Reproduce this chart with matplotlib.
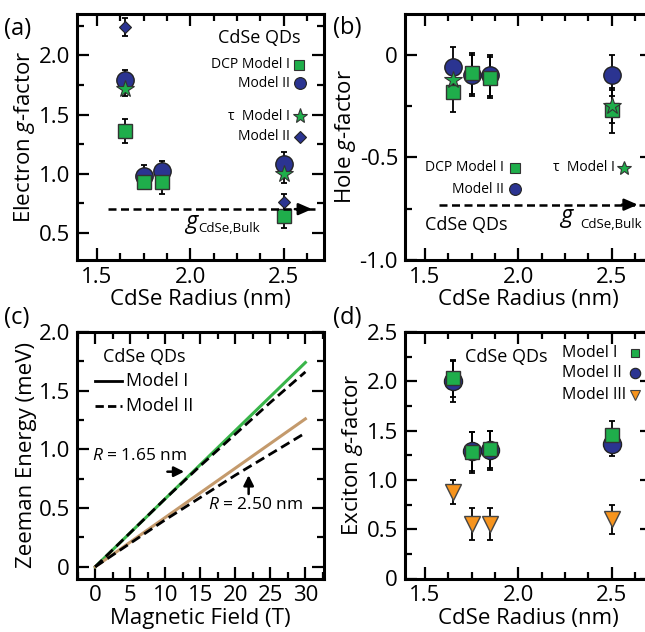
import matplotlib
matplotlib.use("Agg")
import matplotlib.pyplot as plt
from matplotlib.ticker import MultipleLocator, FuncFormatter

FONT = "Open Sans"
plt.rcParams['font.family'] = [FONT, 'DejaVu Sans']
plt.rcParams['mathtext.fontset'] = 'custom'
plt.rcParams['mathtext.rm'] = FONT
plt.rcParams['mathtext.it'] = FONT + ':italic'

# ---------------- data ----------------
radius = [1.65, 1.75, 1.85, 2.5]
radius_tau = [1.65, 2.5]

# (a) electron g-factor
el_dcp_I = [1.36, 0.93, 0.93, 0.64]
el_dcp_I_err = [0.10, 0.05, 0.10, 0.10]
el_dcp_II = [1.79, 0.98, 1.02, 1.08]
el_dcp_II_err = [0.09, 0.09, 0.09, 0.10]
el_tau_I = [1.72, 1.00]
el_tau_I_err = [0.06, 0.08]
el_tau_II = [2.24, 0.76]
el_tau_II_err = [0.08, 0.07]
g_bulk_el = 0.70

# (b) hole g-factor
h_dcp_I = [-0.18, -0.09, -0.11, -0.27]
h_dcp_I_err = [0.10, 0.10, 0.10, 0.11]
h_dcp_II = [-0.06, -0.10, -0.10, -0.10]
h_dcp_II_err = [0.10, 0.10, 0.10, 0.10]
h_tau_I = [-0.12, -0.25]
h_tau_I_err = [0.06, 0.08]
g_bulk_h = -0.73

# (c) Zeeman energy
field = [0, 5, 10, 15, 20, 25, 30]
E165_I = [0, 0.29, 0.58, 0.87, 1.16, 1.45, 1.74]
E165_II = [0, 0.29, 0.58, 0.86, 1.13, 1.40, 1.66]
E250_I = [0, 0.21, 0.42, 0.63, 0.84, 1.05, 1.26]
E250_II = [0, 0.20, 0.40, 0.59, 0.78, 0.96, 1.14]

# (d) exciton g-factor
ex_I = [2.03, 1.28, 1.31, 1.46]
ex_I_err = [0.19, 0.21, 0.19, 0.14]
ex_II = [2.00, 1.29, 1.30, 1.36]
ex_II_err = [0.21, 0.20, 0.20, 0.12]
ex_III = [0.88, 0.55, 0.55, 0.60]
ex_III_err = [0.12, 0.16, 0.16, 0.15]

GREEN = '#1fae4b'
BLUE = '#2b3491'
ORANGE = '#f7941d'
TAN = '#c49a6c'
LGREEN = '#39b54a'

fig = plt.figure(figsize=(6.45, 6.32), dpi=100)
W, H = 645.0, 632.0

def mkax(l, t, w=246.6, h=246.0):
    return fig.add_axes([l / W, 1 - (t + h) / H, w / W, h / H])

axA = mkax(77, 14)
axB = mkax(405, 14)
axC = mkax(77, 332, h=246.5)
axD = mkax(405, 332, h=246.5)

TICKFS = 16
LABFS = 16

def style(ax):
    for s in ax.spines.values():
        s.set_linewidth(2.2)
    ax.tick_params(which='both', direction='in', top=True, right=True,
                   labelsize=TICKFS, width=1.6, pad=5)
    ax.tick_params(which='major', length=8.5)
    ax.tick_params(which='minor', length=5)

def fmt(v, pos):
    if abs(v) < 1e-9:
        return '0'
    return '%.1f' % v

EB = dict(ecolor='black', elinewidth=1.3, capsize=2.5, capthick=1.3, linestyle='none')
ARW = dict(arrowstyle='-|>,head_length=0.8,head_width=0.35', color='black', lw=1.8,
           shrinkA=0, shrinkB=0)

def bulk_arrow(ax, x0, x1, xa, xt, y):
    ax.plot([x0, x1], [y, y], color='black', lw=1.8, dashes=(3.2, 1.8), zorder=6)
    ax.annotate('', xy=(xt, y), xytext=(xa, y), arrowprops=ARW, zorder=7)

# ---------------- (a) ----------------
ax = axA
ax.set_xlim(1.393, 2.714)
ax.set_ylim(0.27, 2.35)
ax.errorbar(radius, el_dcp_I, yerr=el_dcp_I_err, zorder=2, **EB)
ax.errorbar(radius, el_dcp_II, yerr=el_dcp_II_err, zorder=2, **EB)
ax.errorbar(radius_tau, el_tau_I, yerr=el_tau_I_err, zorder=2, **EB)
ax.errorbar(radius_tau, el_tau_II, yerr=el_tau_II_err, zorder=2, **EB)
ax.plot(radius, el_dcp_II, 'o', ms=12.5, mfc=BLUE, mec='#222222', mew=1, zorder=3)
ax.plot(radius, el_dcp_I, 's', ms=10.5, mfc=GREEN, mec='#333333', mew=1, zorder=4)
ax.plot(radius_tau, el_tau_I, '*', ms=13, mfc=GREEN, mec='#333333', mew=0.8, zorder=5)
ax.plot(radius_tau, el_tau_II, 'D', ms=6.5, mfc=BLUE, mec='#222222', mew=0.8, zorder=5)
bulk_arrow(ax, 1.56, 2.67, 2.56, 2.652, g_bulk_el)
ax.text(1.973, 0.54, 'g', fontsize=17, style='italic', ha='left', va='baseline')
ax.text(2.045, 0.508, 'CdSe,Bulk', fontsize=9.5, ha='left', va='baseline')
ax.xaxis.set_major_locator(MultipleLocator(0.5))
ax.xaxis.set_minor_locator(MultipleLocator(0.125))
ax.yaxis.set_major_locator(MultipleLocator(0.5))
ax.yaxis.set_minor_locator(MultipleLocator(0.25))
ax.yaxis.set_major_formatter(FuncFormatter(fmt))
ax.set_xlabel('CdSe Radius (nm)', fontsize=LABFS, labelpad=1)
ax.set_ylabel('Electron $g$-factor', fontsize=LABFS, labelpad=1)
style(ax)
T = ax.transAxes
LFS = 10
ax.text(0.905, 0.902, 'CdSe QDs', transform=T, fontsize=13, ha='right', va='center')
ax.text(0.865, 0.793, 'DCP Model I', transform=T, fontsize=LFS, ha='right', va='center')
ax.plot([0.902], [0.793], 's', ms=7, mfc=GREEN, mec='#333333', mew=0.8, transform=T)
ax.text(0.865, 0.718, 'Model II', transform=T, fontsize=LFS, ha='right', va='center')
ax.plot([0.905], [0.718], 'o', ms=8.5, mfc=BLUE, mec='#222222', mew=0.8, transform=T)
ax.text(0.865, 0.585, 'τ  Model I', transform=T, fontsize=LFS, ha='right', va='center')
ax.plot([0.905], [0.585], '*', ms=11, mfc=GREEN, mec='#333333', mew=0.8, transform=T)
ax.text(0.865, 0.50, 'Model II', transform=T, fontsize=LFS, ha='right', va='center')
ax.plot([0.905], [0.50], 'D', ms=6, mfc=BLUE, mec='#222222', mew=0.8, transform=T)
fig.text(4 / W, 1 - 29 / H, '(a)', fontsize=17, ha='left', va='center')

# ---------------- (b) ----------------
ax = axB
ax.set_xlim(1.393, 2.714)
ax.set_ylim(-1.0, 0.2)
ax.errorbar(radius, h_dcp_I, yerr=h_dcp_I_err, zorder=2, **EB)
ax.errorbar(radius, h_dcp_II, yerr=h_dcp_II_err, zorder=2, **EB)
ax.errorbar(radius_tau, h_tau_I, yerr=h_tau_I_err, zorder=2, **EB)
ax.plot(radius, h_dcp_II, 'o', ms=12.5, mfc=BLUE, mec='#222222', mew=1, zorder=3)
ax.plot(radius, h_dcp_I, 's', ms=10.5, mfc=GREEN, mec='#333333', mew=1, zorder=4)
ax.plot(radius_tau, h_tau_I, '*', ms=13, mfc=GREEN, mec='#333333', mew=0.8, zorder=5)
bulk_arrow(ax, 1.573, 2.75, 2.555, 2.64, g_bulk_h)
ax.text(2.225, -0.815, 'g', fontsize=17, style='italic', ha='left', va='baseline')
ax.text(2.33, -0.845, 'CdSe,Bulk', fontsize=9.5, ha='left', va='baseline')
ax.xaxis.set_major_locator(MultipleLocator(0.5))
ax.xaxis.set_minor_locator(MultipleLocator(0.125))
ax.yaxis.set_major_locator(MultipleLocator(0.5))
ax.yaxis.set_minor_locator(MultipleLocator(0.25))
ax.yaxis.set_major_formatter(FuncFormatter(fmt))
ax.set_xlabel('CdSe Radius (nm)', fontsize=LABFS, labelpad=1)
ax.set_ylabel('Hole $g$-factor', fontsize=LABFS, labelpad=1)
style(ax)
T = ax.transAxes
ax.text(0.081, 0.142, 'CdSe QDs', transform=T, fontsize=13, ha='left', va='center')
ax.text(0.40, 0.374, 'DCP Model I', transform=T, fontsize=LFS, ha='right', va='center')
ax.plot([0.446], [0.374], 's', ms=7, mfc=GREEN, mec='#333333', mew=0.8, transform=T)
ax.text(0.40, 0.287, 'Model II', transform=T, fontsize=LFS, ha='right', va='center')
ax.plot([0.448], [0.287], 'o', ms=8.5, mfc=BLUE, mec='#222222', mew=0.8, transform=T)
ax.text(0.852, 0.374, 'τ  Model I', transform=T, fontsize=LFS, ha='right', va='center')
ax.plot([0.89], [0.374], '*', ms=10.5, mfc=GREEN, mec='#333333', mew=0.8, transform=T)
fig.text(333 / W, 1 - 28 / H, '(b)', fontsize=17, ha='left', va='center')

# ---------------- (c) ----------------
ax = axC
ax.set_xlim(-2.6, 32.6)
ax.set_ylim(-0.1, 2.0)
ax.plot(field, E165_I, color=LGREEN, lw=2.2, zorder=2)
ax.plot(field, E250_I, color=TAN, lw=2.2, zorder=2)
ax.plot(field, E165_II, color='black', lw=2.0, dashes=(3.5, 1.8), zorder=3)
ax.plot(field, E250_II, color='black', lw=2.0, dashes=(3.5, 1.8), zorder=3)
ax.xaxis.set_major_locator(MultipleLocator(5))
ax.xaxis.set_minor_locator(MultipleLocator(2.5))
ax.yaxis.set_major_locator(MultipleLocator(0.5))
ax.yaxis.set_minor_locator(MultipleLocator(0.25))
ax.yaxis.set_major_formatter(FuncFormatter(fmt))
ax.set_xlabel('Magnetic Field (T)', fontsize=LABFS, labelpad=1)
ax.set_ylabel('Zeeman Energy (meV)', fontsize=LABFS, labelpad=1)
style(ax)
ax.text(1.1, 1.79, 'CdSe QDs', fontsize=13, ha='left', va='center')
ax.plot([0.0, 3.8], [1.58, 1.58], color='black', lw=2.0)
ax.text(4.4, 1.58, 'Model I', fontsize=13, ha='left', va='center')
ax.plot([0.0, 3.8], [1.37, 1.37], color='black', lw=2.0, dashes=(3.0, 1.5))
ax.text(4.4, 1.37, 'Model II', fontsize=13, ha='left', va='center')
ax.text(-0.4, 0.94, '$R$ = 1.65 nm', fontsize=12.5, ha='left', va='center')
ax.annotate('', xy=(12.7, 0.81), xytext=(10.3, 0.81),
            arrowprops=dict(arrowstyle='-|>,head_length=0.6,head_width=0.3', color='black',
                            lw=1.8, shrinkA=0, shrinkB=0))
ax.text(16.1, 0.53, '$R$ = 2.50 nm', fontsize=12.5, ha='left', va='center')
ax.annotate('', xy=(21.9, 0.78), xytext=(21.9, 0.62),
            arrowprops=dict(arrowstyle='-|>,head_length=0.6,head_width=0.3', color='black',
                            lw=1.8, shrinkA=0, shrinkB=0))
fig.text(4 / W, 1 - 318 / H, '(c)', fontsize=17, ha='left', va='center')

# ---------------- (d) ----------------
ax = axD
ax.set_xlim(1.393, 2.714)
ax.set_ylim(0, 2.5)
ax.errorbar(radius, ex_I, yerr=ex_I_err, zorder=2, **EB)
ax.errorbar(radius, ex_II, yerr=ex_II_err, zorder=2, **EB)
ax.errorbar(radius, ex_III, yerr=ex_III_err, zorder=2, **EB)
ax.plot(radius, ex_II, 'o', ms=13, mfc=BLUE, mec='#222222', mew=1, zorder=3)
ax.plot(radius, ex_I, 's', ms=10.5, mfc=GREEN, mec='#333333', mew=1, zorder=4)
ax.plot(radius, ex_III, 'v', ms=12, mfc=ORANGE, mec='#444444', mew=1, zorder=4)
ax.xaxis.set_major_locator(MultipleLocator(0.5))
ax.xaxis.set_minor_locator(MultipleLocator(0.125))
ax.yaxis.set_major_locator(MultipleLocator(0.5))
ax.yaxis.set_minor_locator(MultipleLocator(0.25))
ax.yaxis.set_major_formatter(FuncFormatter(fmt))
ax.set_xlabel('CdSe Radius (nm)', fontsize=LABFS, labelpad=1)
ax.set_ylabel('Exciton $g$-factor', fontsize=LABFS, labelpad=1)
style(ax)
T = ax.transAxes
ax.text(0.243, 0.899, 'CdSe QDs', transform=T, fontsize=13, ha='left', va='center')
DFS = 11.5
ax.text(0.638, 0.914, 'Model I', transform=T, fontsize=DFS, ha='left', va='center')
ax.plot([0.932], [0.914], 's', ms=5.5, mfc=GREEN, mec='#333333', mew=0.8, transform=T)
ax.text(0.638, 0.833, 'Model II', transform=T, fontsize=DFS, ha='left', va='center')
ax.plot([0.932], [0.833], 'o', ms=7.5, mfc=BLUE, mec='#222222', mew=0.8, transform=T)
ax.text(0.638, 0.744, 'Model III', transform=T, fontsize=DFS, ha='left', va='center')
ax.plot([0.932], [0.744], 'v', ms=6.5, mfc=ORANGE, mec='#444444', mew=0.8, transform=T)
fig.text(333 / W, 1 - 318 / H, '(d)', fontsize=17, ha='left', va='center')

fig.savefig('out.png', dpi=100)
